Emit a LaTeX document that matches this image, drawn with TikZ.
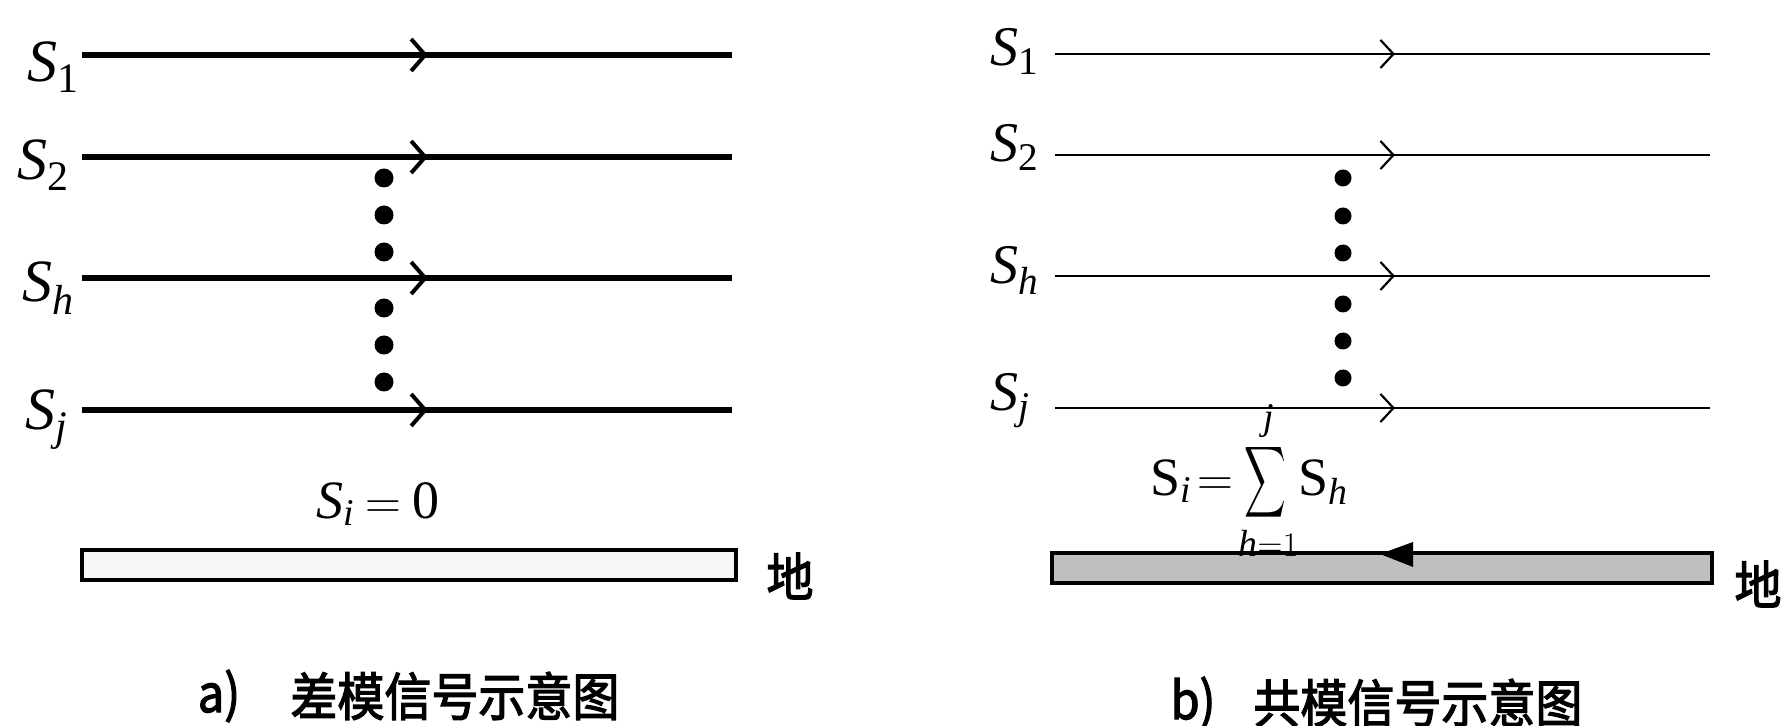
\documentclass[tikz,border=0pt]{standalone}
\usepackage{exscale}
\usepackage{fontspec}
\setmainfont{Liberation Serif}
\newfontfamily\cjk[FakeBold=2.5]{Noto Sans CJK SC}
\usetikzlibrary{decorations.markings,arrows.meta}
\newcommand\narrowsum{\mathop{\scalebox{0.58}[1]{$\displaystyle\sum$}}\limits}
\tikzset{
  labA/.style={inner sep=0pt, anchor=base west, font=\fontsize{30}{32}\selectfont},
  labB/.style={inner sep=0pt, anchor=base west, font=\fontsize{28}{30}\selectfont},
  sigA/.style={line width=2.6pt, postaction={decorate}, decoration={markings,
     mark=at position 0.532 with {\arrow{Straight Barb[length=7pt,width=16pt,line width=2pt]}}}},
  sigB/.style={line width=1.1pt, postaction={decorate}, decoration={markings,
     mark=at position 0.519 with {\arrow{Straight Barb[length=6.5pt,width=14pt,line width=1.1pt]}}}},
  dotA/.style={circle, fill=black, inner sep=0pt, minimum size=9.5pt},
  dotB/.style={circle, fill=black, inner sep=0pt, minimum size=8.5pt},
  cjktext/.style={inner sep=0pt, font=\cjk\fontsize{23.5}{25}\selectfont},
  formula/.style={inner sep=0pt, font=\fontsize{27}{30}\selectfont},
}
\begin{document}
\begin{tikzpicture}[x=0.5pt, y=-0.5pt]
\useasboundingbox (0,0) rectangle (1781,726);
% ---------- panel a ----------
\node[labA] (a1) at (27,82) {\textit{S}\textsubscript{1}};
\node[labA] (a2) at (17,180) {\textit{S}\textsubscript{2}};
\node[labA] (ah) at (22,302) {\textit{S}\textsubscript{\textit{h}}};
\node[labA] (aj) at (25,430) {\textit{S}\textsubscript{\textit{j}}};
\coordinate (a1s) at (82,55);  \coordinate (a1e) at (732,55);
\coordinate (a2s) at (82,157); \coordinate (a2e) at (732,157);
\coordinate (ahs) at (82,278); \coordinate (ahe) at (732,278);
\coordinate (ajs) at (82,410); \coordinate (aje) at (732,410);
\draw[sigA] (a1s) -- (a1e);
\draw[sigA] (a2s) -- (a2e);
\draw[sigA] (ahs) -- (ahe);
\draw[sigA] (ajs) -- (aje);
\foreach \y [count=\i] in {178,215,252,308,345,382}
  \node[dotA] (da\i) at (384,\y) {};
\node[formula, anchor=base] (sa) at (378,518) {$\thickmuskip=4mu\mathit{S}_{\mathit{i}}=\mathrm{0}$};
\draw[line width=2.2pt, fill=gray!6] (82,550) rectangle (736,580);
\node[cjktext, yscale=1.1] (ga) at (790,576) {地};
\node[cjktext, yscale=1.1] (capal) at (219,696) {a)};
\node[cjktext, yscale=1.1, anchor=west] (capa) at (290,696) {差模信号示意图};
% ---------- panel b ----------
\node[labB] (b1) at (990,66) {\textit{S}\textsubscript{1}};
\node[labB] (b2) at (990,162) {\textit{S}\textsubscript{2}};
\node[labB] (bh) at (990,284) {\textit{S}\textsubscript{\textit{h}}};
\node[labB] (bj) at (990,411) {\textit{S}\textsubscript{\textit{j}}};
\coordinate (b1s) at (1055,54);  \coordinate (b1e) at (1710,54);
\coordinate (b2s) at (1055,155); \coordinate (b2e) at (1710,155);
\coordinate (bhs) at (1055,276); \coordinate (bhe) at (1710,276);
\coordinate (bjs) at (1055,408); \coordinate (bje) at (1710,408);
\draw[sigB] (b1s) -- (b1e);
\draw[sigB] (b2s) -- (b2e);
\draw[sigB] (bhs) -- (bhe);
\draw[sigB] (bjs) -- (bje);
\foreach \y [count=\i] in {178,216,253,304,341,378}
  \node[dotB] (db\i) at (1343,\y) {};
\draw[line width=2.4pt, fill=gray!50] (1052,553) rectangle (1712,583);
\node[formula, anchor=base west] (sb) at (1150,495)
  {$\displaystyle\thickmuskip=2mu\mathrm{S}_{\mathit{i}}=\narrowsum_{\mathit{h}=1}^{\mathit{j}}\!\mathrm{S}_{\mathit{h}}$};
\fill (1380,554) -- (1413,542) -- (1413,567) -- cycle;
\node[cjktext, yscale=1.1] (gb) at (1758,584) {地};
\node[cjktext, yscale=1.1] (capbl) at (1193,703) {b)};
\node[cjktext, yscale=1.1, anchor=west] (capb) at (1253,703) {共模信号示意图};
\end{tikzpicture}
\end{document}
